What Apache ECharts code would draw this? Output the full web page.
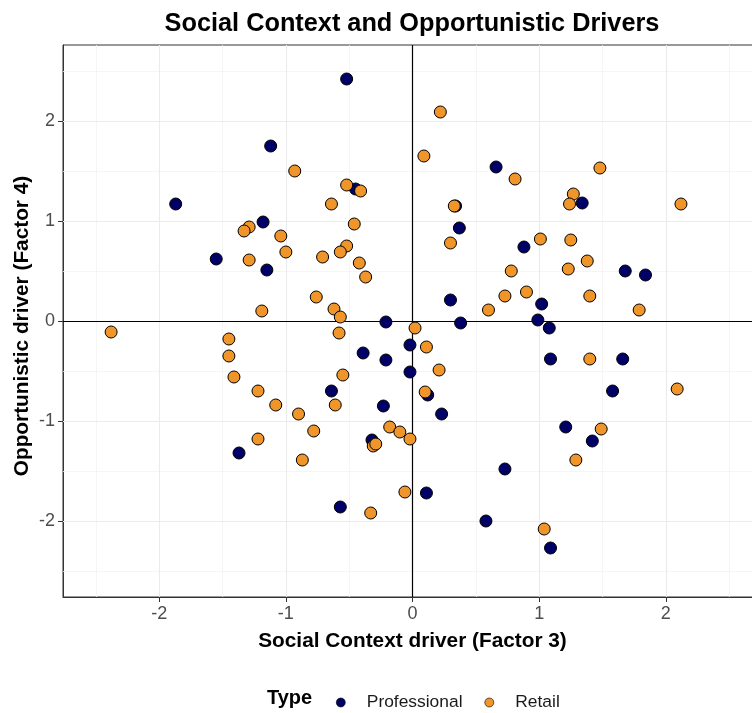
<!DOCTYPE html>
<html>
<head>
<meta charset="utf-8">
<script src="https://cdn.jsdelivr.net/npm/echarts@6/dist/echarts.min.js"></script>
<style>
  html, body { margin: 0; padding: 0; background: #ffffff; overflow: hidden; }
  #chart { width: 775px; height: 713px; }
</style>
</head>
<body>
<div id="chart"></div>
<script>
// Factor scores: [Social Context (F3), Opportunistic (F4)]
const professional = [
  [-0.52, 2.42], [-1.12, 1.75], [-0.45, 1.32], [-1.87, 1.17], [-1.18, 0.99], [-1.55, 0.62],
  [-1.15, 0.51], [-0.21, -0.01], [0.66, 1.54], [1.34, 1.18], [0.34, 1.15], [0.37, 0.93],
  [0.88, 0.74], [1.68, 0.50], [1.84, 0.46], [0.30, 0.21], [1.02, 0.17], [0.38, -0.02],
  [0.99, 0.01], [1.08, -0.07], [-0.39, -0.32], [-0.21, -0.39], [-0.02, -0.24], [-0.02, -0.51],
  [-0.64, -0.70], [-0.23, -0.85], [-0.32, -1.19], [-1.37, -1.32], [-0.57, -1.86], [1.09, -0.38],
  [1.66, -0.38], [0.12, -0.74], [1.58, -0.70], [0.23, -0.93], [1.21, -1.06], [1.42, -1.20],
  [0.73, -1.48], [0.11, -1.72], [0.58, -2.00], [1.09, -2.27]
];
const retail = [
  [-0.93, 1.50], [-0.52, 1.36], [-0.41, 1.30], [-0.64, 1.17], [-0.46, 0.97], [-1.29, 0.94],
  [-1.33, 0.90], [-1.04, 0.85], [-1.00, 0.69], [-0.52, 0.75], [-0.57, 0.69], [-0.71, 0.64],
  [-0.42, 0.58], [-1.29, 0.61], [-0.37, 0.44], [-0.76, 0.24], [-0.62, 0.12], [-0.57, 0.04],
  [-1.19, 0.10], [0.22, 2.09], [0.09, 1.65], [1.48, 1.53], [0.81, 1.42], [1.27, 1.27],
  [1.24, 1.17], [2.12, 1.17], [0.33, 1.15], [0.30, 0.78], [1.01, 0.82], [1.25, 0.81],
  [1.38, 0.60], [0.78, 0.50], [1.23, 0.52], [0.73, 0.25], [0.90, 0.29], [1.40, 0.25],
  [0.60, 0.11], [1.79, 0.11], [0.02, -0.07], [-2.38, -0.11], [-0.58, -0.12], [-1.45, -0.18],
  [-1.45, -0.35], [-1.41, -0.56], [-0.55, -0.54], [-1.22, -0.70], [-1.08, -0.84], [-0.61, -0.84],
  [-0.90, -0.93], [-0.78, -1.10], [-0.18, -1.06], [-0.10, -1.11], [-0.02, -1.18], [-0.31, -1.25],
  [-0.29, -1.23], [-1.22, -1.18], [-0.87, -1.39], [-0.06, -1.71], [-0.33, -1.92], [0.11, -0.26],
  [1.40, -0.38], [0.21, -0.49], [0.10, -0.71], [2.09, -0.68], [1.49, -1.08], [1.29, -1.39],
  [1.04, -2.08]
];

// Axis extents, labelled ticks and grid positions
const xRange = [-2.76, 2.76];
const yRange = [-2.76, 2.76];
const xTicks = [-2, -1, 0, 1, 2];
const yTicks = [-2, -1, 0, 1, 2];
const xMajor = [-2, -1, 0, 1, 2];
const xMinor = [-2.5, -1.5, -0.5, 0.5, 1.5, 2.5];
const yMajor = [-2, -1, 0, 1, 2];
const yMinor = [-2.5, -1.5, -0.5, 0.5, 1.5, 2.5];

const FONT = '"Liberation Sans", Arial, sans-serif';
const NAVY = '#000066';
const ORANGE = '#F0952A';

const gridMajor = { color: '#EBEBEB', width: 1.1, type: 'solid' };
const gridMinor = { color: '#F3F3F3', width: 0.8, type: 'solid' };

const guideLines = []
  .concat(xMinor.map(v => ({ xAxis: v, lineStyle: gridMinor })))
  .concat(yMinor.map(v => ({ yAxis: v, lineStyle: gridMinor })))
  .concat(xMajor.map(v => ({ xAxis: v, lineStyle: gridMajor })))
  .concat(yMajor.map(v => ({ yAxis: v, lineStyle: gridMajor })))
  .concat([
    { xAxis: 0, lineStyle: { color: '#000000', width: 1.2, type: 'solid' } },
    { yAxis: 0, lineStyle: { color: '#000000', width: 1.2, type: 'solid' } }
  ]);

const axisCommon = {
  type: 'value',
  axisLine: { show: true, onZero: false, lineStyle: { color: '#333333', width: 1 } },
  axisTick: { show: true, length: 5, lineStyle: { color: '#333333', width: 1 } },
  splitLine: { show: false },
};

const chart = echarts.init(document.getElementById('chart'), null, { renderer: 'canvas' });
chart.setOption({
  backgroundColor: '#ffffff',
  animation: false,
  grid: {
    left: 63, top: 45, width: 699, height: 552,
    show: true, backgroundColor: '#ffffff', borderColor: '#333333', borderWidth: 1
  },
  graphic: [
    {
      type: 'text', x: 412, y: 12,
      style: {
        text: 'Social Context and Opportunistic Drivers',
        textAlign: 'center', textVerticalAlign: 'top',
        fontFamily: FONT, fontWeight: 'bold', fontSize: 25.3, fill: '#000000'
      }
    },
    {
      type: 'text', left: 267, top: 688,
      style: { text: 'Type', fontFamily: FONT, fontWeight: 'bold', fontSize: 20, fill: '#000000' }
    }
  ],
  legend: {
    data: ['Professional', 'Retail'],
    left: 331, top: 689,
    icon: 'circle',
    itemWidth: 42, itemHeight: 9, itemGap: 22,
    itemStyle: { borderWidth: 0.6, borderColor: '#000000' },
    textStyle: { fontFamily: FONT, fontSize: 17.4, color: '#1A1A1A' }
  },
  xAxis: Object.assign({}, axisCommon, {
    min: xRange[0], max: xRange[1],
    name: 'Social Context driver (Factor 3)',
    nameLocation: 'middle', nameGap: 34,
    nameTextStyle: { fontFamily: FONT, fontWeight: 'bold', fontSize: 20.8, color: '#000000' },
    axisTick: Object.assign({}, axisCommon.axisTick, { customValues: xTicks }),
    axisLabel: { customValues: xTicks, fontFamily: FONT, fontSize: 18, color: '#4D4D4D', margin: 8 }
  }),
  yAxis: Object.assign({}, axisCommon, {
    min: yRange[0], max: yRange[1],
    name: 'Opportunistic driver (Factor 4)',
    nameLocation: 'middle', nameGap: 30, nameMoveOverlap: false,
    nameTextStyle: {
      fontFamily: FONT, fontWeight: 'bold', fontSize: 20.8, color: '#000000',
      padding: [0, 10, 0, 0]
    },
    axisTick: Object.assign({}, axisCommon.axisTick, { customValues: yTicks }),
    axisLabel: { customValues: yTicks, fontFamily: FONT, fontSize: 18, color: '#4D4D4D', margin: 8 }
  }),
  series: [
    {
      name: 'guides', type: 'scatter', data: [], z: 1, silent: true,
      markLine: {
        z: 1, silent: true, symbol: ['none', 'none'], animation: false,
        label: { show: false },
        data: guideLines
      }
    },
    {
      name: 'Professional', type: 'scatter', data: professional, z: 3,
      symbol: 'circle', symbolSize: 12,
      itemStyle: { color: NAVY, borderColor: '#000000', borderWidth: 1, opacity: 1 }
    },
    {
      name: 'Retail', type: 'scatter', data: retail, z: 3,
      symbol: 'circle', symbolSize: 12,
      itemStyle: { color: ORANGE, borderColor: '#000000', borderWidth: 1, opacity: 1 }
    }
  ]
});
</script>
</body>
</html>
